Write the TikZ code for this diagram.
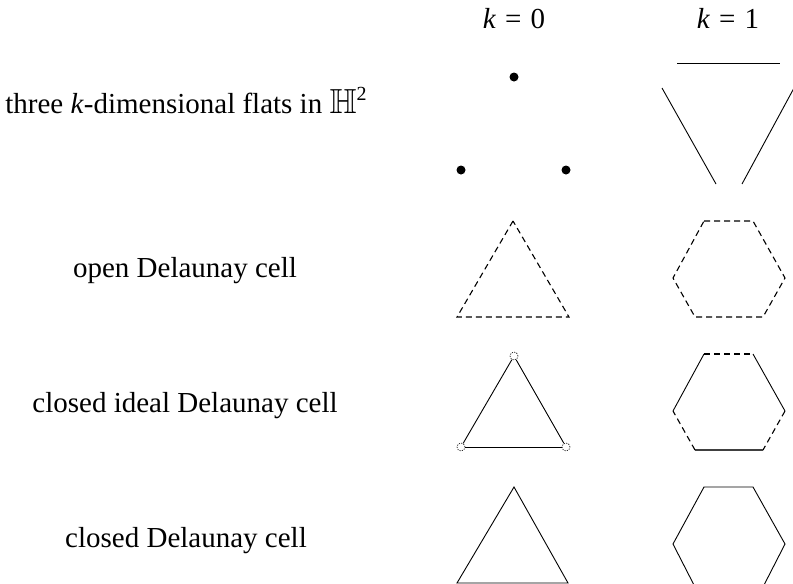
\documentclass[tikz,border=0pt]{standalone}
\usepackage{amssymb}
\usepackage{fontspec}
\setmainfont{Liberation Serif}
\newcommand{\myH}{\scalebox{1.2}{$\mathbb{H}$}\raisebox{0.42em}{\fontsize{20}{20}\selectfont 2}}
\begin{document}
\begin{tikzpicture}[x=1pt,y=-1pt,
  lbl/.style={font=\fontsize{29}{34}\selectfont, anchor=base, inner sep=0pt},
  edge/.style={line width=0.9pt},
  dsh/.style={line width=1.1pt, dash pattern=on 6pt off 4pt},
  dotpt/.style={circle, fill=black, inner sep=0pt, minimum size=9pt},
  ideal/.style={circle, draw, line width=0.6pt, dash pattern=on 1.2pt off 1.2pt, inner sep=0pt, minimum size=8pt}]
\useasboundingbox (0,0) rectangle (793,584);
% column headers
\node[lbl] (h0) at (514,28) {\textit{k}\kern9pt=\kern9pt0};
\node[lbl] (h1) at (728,28) {\textit{k}\kern9pt=\kern9pt1};
% row labels
\node[lbl] (r1) at (186,113) {three \textit{k}-dimensional flats in \myH};
\node[lbl] (r2) at (185,277) {open Delaunay cell};
\node[lbl] (r3) at (185,412) {closed ideal Delaunay cell};
\node[lbl] (r4) at (186,547) {closed Delaunay cell};
% row 1, k=0: three points
\node[dotpt] (p1) at (514,77) {};
\node[dotpt] (p2) at (461,170) {};
\node[dotpt] (p3) at (566,170) {};
% row 1, k=1: three lines
\coordinate (la1) at (677,63); \coordinate (la2) at (780,63);
\coordinate (lb1) at (662,88); \coordinate (lb2) at (716,184);
\coordinate (lc1) at (794,88); \coordinate (lc2) at (742,184);
\draw[edge] (la1) -- (la2);
\draw[edge] (lb1) -- (lb2);
\draw[edge] (lc1) -- (lc2);
% row 2, k=0: open triangle
\coordinate (ta) at (513,221); \coordinate (tb) at (457,317); \coordinate (tc) at (569,317);
\draw[dsh] (ta) -- (tb) -- (tc) -- cycle;
% row 2, k=1: open hexagon
\coordinate (ha1) at (704,221); \coordinate (ha2) at (753,221); \coordinate (ha3) at (785,278);
\coordinate (ha4) at (763,317); \coordinate (ha5) at (695,317); \coordinate (ha6) at (673,278);
\draw[dsh] (ha1) -- (ha2) -- (ha3) -- (ha4) -- (ha5) -- (ha6) -- cycle;
% row 3, k=0: closed ideal triangle
\node[ideal] (ia) at (514,356) {};
\node[ideal] (ib) at (461,447) {};
\node[ideal] (ic) at (566,447) {};
\draw[edge] (ia) -- (ib);
\draw[edge] (ib) -- (ic);
\draw[edge] (ic) -- (ia);
% row 3, k=1: closed ideal hexagon
\coordinate (hb1) at (704,354); \coordinate (hb2) at (753,354); \coordinate (hb3) at (785,411);
\coordinate (hb4) at (763,450); \coordinate (hb5) at (695,450); \coordinate (hb6) at (673,411);
\draw[dsh] (hb1) -- (hb2);
\draw[edge] (hb2) -- (hb3);
\draw[dsh] (hb3) -- (hb4);
\draw[edge, line width=1.2pt, black!75] (hb4) -- (hb5);
\draw[dsh] (hb5) -- (hb6);
\draw[edge] (hb6) -- (hb1);
% row 4, k=0: closed triangle
\coordinate (ua) at (514,487); \coordinate (ub) at (457,583); \coordinate (uc) at (568,583);
\draw[edge] (ua) -- (ub) -- (uc) -- cycle;
% row 4, k=1: closed hexagon
\coordinate (hc1) at (704,487); \coordinate (hc2) at (753,487); \coordinate (hc3) at (785,544);
\coordinate (hc4) at (763,587); \coordinate (hc5) at (695,587); \coordinate (hc6) at (673,544);
\draw[edge] (hc1) -- (hc2) -- (hc3) -- (hc4) -- (hc5) -- (hc6) -- cycle;
\end{tikzpicture}
\end{document}
